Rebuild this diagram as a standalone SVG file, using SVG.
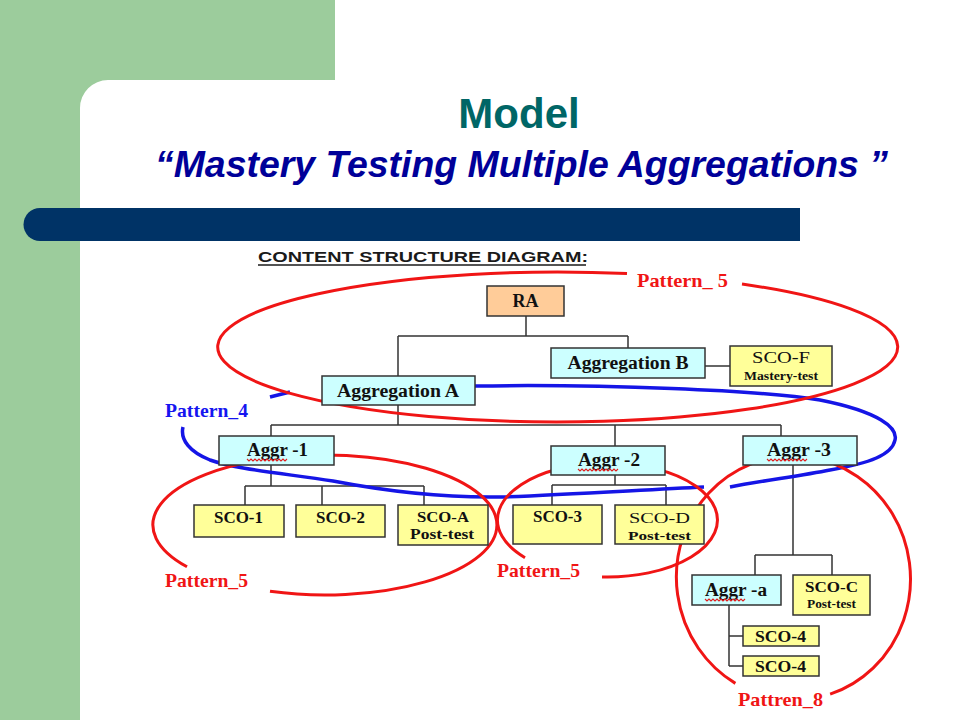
<svg xmlns="http://www.w3.org/2000/svg" width="960" height="720" viewBox="0 0 960 720">
<style>
.box{stroke:#333;stroke-width:1.5}
.agg{fill:#CCFFFF}
.sco{fill:#FFFF99}
.ra{fill:#FFCC99}
.t{font-family:"Liberation Serif","Times New Roman",serif;font-weight:bold;fill:#111;text-anchor:middle}
.conn path{fill:none;stroke:#333;stroke-width:1.5}
.red{fill:none;stroke:#F01515;stroke-width:3}
.blue{fill:none;stroke:#1515E6;stroke-width:3.5}
.lbl{font-family:"Liberation Serif","Times New Roman",serif;font-weight:bold;font-size:19px}
</style>
<defs>
<path id="sq" d="M0,0 l2,2 l2,-2 l2,2 l2,-2 l2,2 l2,-2 l2,2 l2,-2 l2,2 l2,-2 l2,2 l2,-2 l2,2 l2,-2 l2,2 l2,-2 l2,2 l2,-2 l2,2 l2,-2" fill="none" stroke="#E02020" stroke-width="1.1"/>
</defs>
<rect width="960" height="720" fill="#FFFFFF"/>
<path d="M0,0 H335 V80 H108 A28 28 0 0 0 80,108 V720 H0 Z" fill="#9CCC9C"/>
<path d="M40,208 H800 V241 H40 A16.5 16.5 0 0 1 40,208 Z" fill="#003366"/>
<text x="519" y="128" font-family="Liberation Sans, Arial, sans-serif" font-weight="bold" font-size="42" fill="#006666" text-anchor="middle">Model</text>
<text x="155" y="177" font-family="Liberation Sans, Arial, sans-serif" font-weight="bold" font-style="italic" font-size="37" fill="#000099" textLength="733" lengthAdjust="spacingAndGlyphs">“Mastery Testing Multiple Aggregations ”</text>
<text x="258" y="262" font-family="Liberation Sans, Arial, sans-serif" font-weight="bold" font-size="15.5" fill="#1a1a1a" textLength="330" lengthAdjust="spacingAndGlyphs">CONTENT STRUCTURE DIAGRAM:</text>
<line x1="258" y1="265" x2="586" y2="265" stroke="#1a1a1a" stroke-width="1.5"/>

<g id="connectors" class="conn">
<path d="M526,316 V336 M398,336 H628 M398,336 V376 M628,336 V348"/>
<path d="M705,366 H730"/>
<path d="M398,405 V425 M271,425 H781 M271,425 V436 M615,425 V446 M781,425 V436"/>
<path d="M271,465 V486 M245,486 H424 M245,486 V505 M322,486 V505 M424,486 V505"/>
<path d="M615,475 V485 M552,485 H666 M552,485 V505 M666,485 V505"/>
<path d="M793,465 V555 M755,555 H832 M755,555 V575 M832,555 V575"/>
<path d="M729,605 V666 M729,636 H743 M729,666 H743"/>
</g>

<g id="pattern4">
<path class="blue" d="M475,386 C600,384 760,390 820,400 C880,412 898,428 895,440 C892,455 870,463 830,470 C800,476 760,481 730,487"/>
<path class="blue" d="M704,487 C640,490 560,495 500,497 C440,498 380,490 333,481 C280,473 235,469 210,460 C190,452 180,440 183,427"/>
<path class="blue" d="M270,397 L290,392"/>
<text class="lbl" x="165" y="417" fill="#1515F0" textLength="83" lengthAdjust="spacingAndGlyphs">Pattern_4</text>
</g>

<g id="pattern5-top">
<path class="red" d="M627,273.6 A340 75 0 1 0 742,284"/>
<text class="lbl" x="637" y="287" fill="#F01515" textLength="91" lengthAdjust="spacingAndGlyphs">Pattern_ 5</text>
</g>
<g id="pattern5-left">
<path class="red" d="M187,566.8 A172 70 0 1 1 270,591.3"/>
<text class="lbl" x="165" y="587" fill="#F01515" textLength="83" lengthAdjust="spacingAndGlyphs">Pattern_5</text>
</g>
<g id="pattern5-mid">
<path class="red" d="M525,557.7 A110 57 0 1 1 602,576.9"/>
<text class="lbl" x="497" y="577" fill="#F01515" textLength="83" lengthAdjust="spacingAndGlyphs">Pattern_5</text>
</g>
<g id="pattern8">
<path class="red" transform="rotate(-6 793.5 578)" d="M724.7,676.7 A117 122 0 1 1 817.8,697.3"/>
<text class="lbl" x="738" y="706" fill="#F01515" textLength="85" lengthAdjust="spacingAndGlyphs">Pattren_8</text>
</g>

<g id="RA"><rect class="box ra" x="487" y="286" width="77" height="30"/><text class="t" x="525.5" y="307" font-size="18">RA</text></g>
<g id="AggregationB"><rect class="box agg" x="551" y="348" width="154" height="30"/><text class="t" x="628" y="369" font-size="18" textLength="121" lengthAdjust="spacingAndGlyphs">Aggregation B</text></g>
<g id="SCO-F"><rect class="box sco" x="730" y="346" width="102" height="40"/><text class="t" x="781" y="363" font-size="16" style="font-weight:normal" textLength="58" lengthAdjust="spacingAndGlyphs">SCO-F</text><text class="t" x="781" y="380" font-size="12" textLength="74" lengthAdjust="spacingAndGlyphs">Mastery-test</text></g>
<g id="AggregationA"><rect class="box agg" x="322" y="376" width="153" height="29"/><text class="t" x="398" y="397" font-size="18" textLength="122" lengthAdjust="spacingAndGlyphs">Aggregation A</text></g>
<g id="Aggr-1"><rect class="box agg" x="219" y="436" width="115" height="29"/><text class="t" x="277.5" y="456" font-size="18" textLength="61" lengthAdjust="spacingAndGlyphs">Aggr -1</text><use href="#sq" x="247" y="459"/></g>
<g id="Aggr-2"><rect class="box agg" x="551" y="446" width="114" height="29"/><text class="t" x="609" y="466" font-size="18" textLength="62" lengthAdjust="spacingAndGlyphs">Aggr -2</text><use href="#sq" x="578" y="469"/></g>
<g id="Aggr-3"><rect class="box agg" x="743" y="436" width="114" height="29"/><text class="t" x="799" y="456" font-size="18" textLength="64" lengthAdjust="spacingAndGlyphs">Aggr -3</text><use href="#sq" x="767" y="459"/></g>
<g id="SCO-1"><rect class="box sco" x="194" y="505" width="90" height="32"/><text class="t" x="238.5" y="523" font-size="16" textLength="49" lengthAdjust="spacingAndGlyphs">SCO-1</text></g>
<g id="SCO-2"><rect class="box sco" x="296" y="505" width="89" height="32"/><text class="t" x="340.5" y="523" font-size="16" textLength="49" lengthAdjust="spacingAndGlyphs">SCO-2</text></g>
<g id="SCO-A"><rect class="box sco" x="398" y="505" width="90" height="40"/><text class="t" x="443" y="522" font-size="14.5" textLength="52" lengthAdjust="spacingAndGlyphs">SCO-A</text><text class="t" x="442" y="539" font-size="14.5" textLength="64" lengthAdjust="spacingAndGlyphs">Post-test</text></g>
<g id="SCO-3"><rect class="box sco" x="513" y="505" width="89" height="39"/><text class="t" x="557.5" y="522" font-size="16" textLength="49" lengthAdjust="spacingAndGlyphs">SCO-3</text></g>
<g id="SCO-D"><rect class="box sco" x="615" y="505" width="89" height="39"/><text class="t" x="659.5" y="523" font-size="15" style="font-weight:normal" textLength="61" lengthAdjust="spacingAndGlyphs">SCO-D</text><text class="t" x="659.5" y="540" font-size="13.5" textLength="63" lengthAdjust="spacingAndGlyphs">Post-test</text></g>
<g id="Aggr-a"><rect class="box agg" x="692" y="575" width="89" height="30"/><text class="t" x="736" y="596" font-size="18" textLength="62" lengthAdjust="spacingAndGlyphs">Aggr -a</text><use href="#sq" x="705" y="599"/></g>
<g id="SCO-C"><rect class="box sco" x="793" y="575" width="77" height="40"/><text class="t" x="831.5" y="592" font-size="15" textLength="53" lengthAdjust="spacingAndGlyphs">SCO-C</text><text class="t" x="831.5" y="608" font-size="11.5" textLength="49" lengthAdjust="spacingAndGlyphs">Post-test</text></g>
<g id="SCO-4a"><rect class="box sco" x="743" y="626" width="76" height="20"/><text class="t" x="780.5" y="642" font-size="16" textLength="51" lengthAdjust="spacingAndGlyphs">SCO-4</text></g>
<g id="SCO-4b"><rect class="box sco" x="743" y="656" width="76" height="20"/><text class="t" x="780.5" y="672" font-size="16" textLength="51" lengthAdjust="spacingAndGlyphs">SCO-4</text></g>
</svg>
